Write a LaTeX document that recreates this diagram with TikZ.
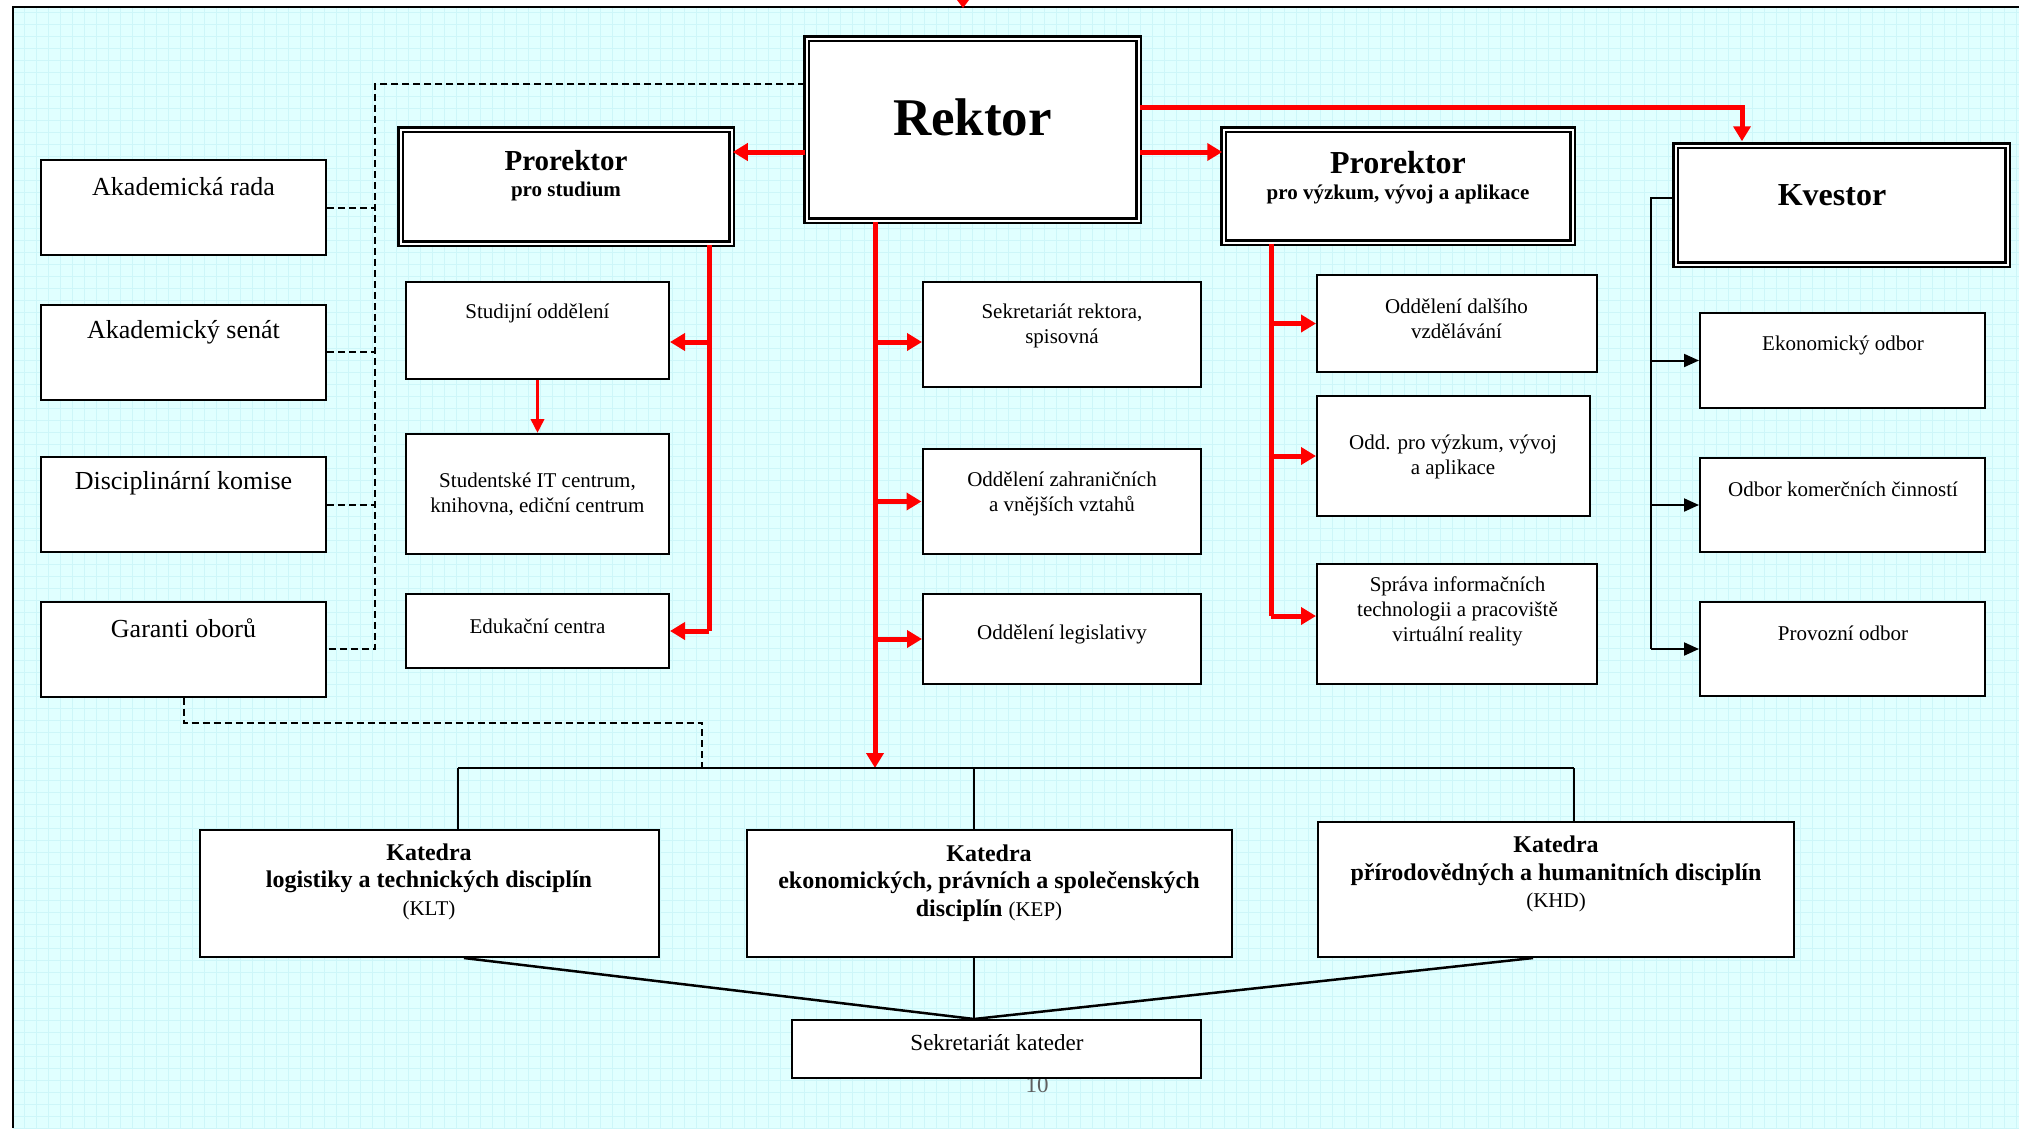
\documentclass[tikz,border=0pt]{standalone}
\usepackage{fontspec}
\setmainfont{Liberation Serif}
\usetikzlibrary{positioning,arrows.meta}
\definecolor{bgcyan}{HTML}{E0FFFF}
\definecolor{gridcyan}{HTML}{CDF6F9}
\definecolor{pagegray}{HTML}{5F5F5F}
\newcommand{\fsz}[2]{\fontsize{#1}{#2}\selectfont}

\begin{document}
\begin{tikzpicture}[x=1pt,y=1pt,
  box/.style={draw,line width=2pt,fill=white,inner sep=0pt},
  dblbox/.style={draw,line width=2.5pt,double=white,double distance=2pt,fill=white,inner sep=0pt},
  txt/.style={inner sep=0pt,align=center,font=\fsz{21}{25}},
  sidetxt/.style={inner sep=0pt,font=\fsz{26}{30}},
  kattxt/.style={inner sep=0pt,align=center,font=\bfseries\fsz{24}{27.5}},
  redln/.style={red,line width=5pt},
  redarr/.style={red,line width=5pt,-{Triangle[length=15pt,width=17pt]}},
  redthin/.style={red,line width=3.5pt,-{Triangle[length=14pt,width=13pt]}},
  blkln/.style={line width=2pt},
  blkarr/.style={line width=2pt,-{Triangle[length=15pt,width=13pt]}},
  dashln/.style={line width=2pt,dash pattern=on 7pt off 4pt}
]
\useasboundingbox (0,0) rectangle (2019,-1128);

% background sheet
\fill[white] (0,0) rectangle (2019,-1128);
\fill[bgcyan] (13,-7) rectangle (2019,-1128);
\draw[gridcyan,line width=0.5pt,step=12] (13,-7) grid (2019,-1128);
\draw[line width=2.5pt] (13,-1128) -- (13,-7) -- (2019,-7);
\fill[red] (957,0) -- (969,0) -- (963,-8) -- cycle;
\node[font=\fsz{23}{27},text=pagegray,inner sep=0pt] (pnum) at (1037,-1085) {10};

% top management
\node[dblbox,minimum width=332pt,minimum height=182pt] (rektor) at (972.5,-129.5) {};
\node[dblbox,minimum width=331pt,minimum height=114pt] (prorS) at (566,-186.5) {};
\node[dblbox,minimum width=349pt,minimum height=113pt] (prorV) at (1398,-186) {};
\node[dblbox,minimum width=332pt,minimum height=119pt] (kvestor) at (1841.5,-205) {};

\node[inner sep=0pt,font=\bfseries\fsz{53}{60}] (rektor-t) at (972.5,-117) {Rektor};
\node[inner sep=0pt,font=\bfseries\fsz{29}{33}] (prorS-t) at (566,-161) {Prorektor};
\node[inner sep=0pt,font=\bfseries\fsz{21}{25}] (prorS-s) at (566,-191) {pro studium};
\node[inner sep=0pt,font=\bfseries\fsz{32}{36}] (prorV-t) at (1398,-163) {Prorektor};
\node[inner sep=0pt,font=\bfseries\fsz{21}{25}] (prorV-s) at (1398,-194) {pro výzkum, vývoj a aplikace};
\node[inner sep=0pt,font=\bfseries\fsz{32}{36}] (kvestor-t) at (1832,-195) {Kvestor};

% academic bodies
\foreach \n/\y/\ty/\t in {rada/207.5/187/Akademická rada,
                          senat/352/332/Akademický senát,
                          komise/504.5/483/Disciplinární komise,
                          garanti/649/628/Garanti oborů}{
  \node[box,minimum width=285pt,minimum height=95pt] (\n) at (183.5,-\y) {};
  \node[sidetxt] (\n-t) at (183.5,-\ty) {\t};
}

% departments
\node[box,minimum width=263pt,minimum height=97pt] (studijni) at (537.5,-330.5) {};
\node[box,minimum width=263pt,minimum height=120pt] (studIT) at (537.5,-494) {};
\node[box,minimum width=263pt,minimum height=74pt] (edukacni) at (537.5,-631) {};
\node[box,minimum width=278pt,minimum height=105pt] (sekr) at (1062,-334.5) {};
\node[box,minimum width=278pt,minimum height=105pt] (zahr) at (1061.5,-501.5) {};
\node[box,minimum width=278pt,minimum height=90pt] (legis) at (1062,-639) {};
\node[box,minimum width=280pt,minimum height=97pt] (dalsi) at (1457,-323.5) {};
\node[box,minimum width=273pt,minimum height=120pt] (vyzkum) at (1453.5,-456) {};
\node[box,minimum width=280pt,minimum height=120pt] (sprava) at (1457,-624) {};
\node[box,minimum width=285pt,minimum height=95pt] (ekon) at (1842.5,-360.5) {};
\node[box,minimum width=285pt,minimum height=94pt] (komer) at (1842.5,-505) {};
\node[box,minimum width=285pt,minimum height=94pt] (provoz) at (1842.5,-649) {};

\node[txt] (studijni-t) at (537.5,-313) {Studijní oddělení};
\node[txt] (studIT-t) at (537.5,-494.5) {Studentské IT centrum,\\knihovna, ediční centrum};
\node[txt] (edukacni-t) at (537.5,-626) {Edukační centra};
\node[txt] (sekr-t) at (1062,-325.5) {Sekretariát rektora,\\spisovná};
\node[txt] (zahr-t) at (1062,-493.5) {Oddělení zahraničních\\a vnějších vztahů};
\node[txt] (legis-t) at (1062,-634) {Oddělení legislativy};
\node[txt] (dalsi-t) at (1456.5,-318.5) {Oddělení dalšího\\vzdělávání};
\node[txt] (vyzkum-t) at (1453,-456.5) {Odd. pro výzkum, vývoj\\a aplikace};
\node[txt] (sprava-t) at (1457.5,-611) {Správa informačních\\technologii a pracoviště\\virtuální reality};
\node[txt] (ekon-t) at (1843,-345) {Ekonomický odbor};
\node[txt] (komer-t) at (1843,-489) {Odbor komerčních činností};
\node[txt] (provoz-t) at (1843,-633) {Provozní odbor};

% chairs
\node[box,minimum width=459pt,minimum height=127pt] (klt) at (429.5,-893.5) {};
\node[box,minimum width=485pt,minimum height=127pt] (kep) at (989.5,-893.5) {};
\node[box,minimum width=476pt,minimum height=135pt] (khd) at (1556,-889.5) {};
\node[box,minimum width=409pt,minimum height=58pt] (sekrK) at (996.5,-1049) {};

\node[kattxt] (klt-t) at (429,-881.5) {Katedra\\logistiky a technických disciplín\\{\mdseries\fsz{21}{25}(KLT)}};
\node[kattxt] (kep-t) at (989,-883) {Katedra\\ekonomických, právních a společenských\\disciplín {\mdseries\fsz{21}{25}(KEP)}};
\node[kattxt] (khd-t) at (1556,-874) {Katedra\\přírodovědných a humanitních disciplín\\{\mdseries\fsz{21}{25}(KHD)}};
\node[txt,font=\fsz{23}{27}] (sekrK-t) at (997,-1043) {Sekretariát kateder};

% bus points
\coordinate (dtop) at (375,-84);
\coordinate (sbus) at (709,0);
\coordinate (trunk) at (875,0);
\coordinate (vbus) at (1271,0);
\coordinate (kbus) at (1651,0);
\coordinate (kbusL) at (458,-768);
\coordinate (kbusR) at (1574,-768);
\coordinate (kepj) at (974,-768);
\coordinate (gjoin) at (702,-768);

% dashed links
\draw[dashln] (rektor.west |- dtop) -- (dtop) -- (dtop |- garanti.east) -- (garanti.east);
\foreach \b in {rada,senat,komise}
  \draw[dashln] (\b.east) -- (\b.east -| dtop);
\draw[dashln] (garanti.south) -- ++(0,-25) -| (gjoin);

% red links
\draw[redarr] (rektor.west |- 0,-152) -- (prorS.east |- 0,-152);
\draw[redarr] (rektor.east |- 0,-152) -- (prorV.west |- 0,-152);
\draw[redarr,shorten >=3pt] (rektor.east |- 0,-107) -| (1742,0 |- kvestor.north);
\draw[redarr] (rektor.south -| trunk) -- (kbusL -| trunk);

\draw[redln] (prorS.south -| sbus) -- (edukacni.east -| sbus);
\draw[redarr] (sbus |- 0,-342) -- (studijni.east |- 0,-342);
\draw[redarr] (edukacni.east -| sbus) -- (edukacni.east);
\draw[redthin] (studijni) -- (studIT);

\draw[redarr] (trunk |- 0,-342) -- (sekr.west |- 0,-342);
\draw[redarr] (zahr.west -| trunk) -- (zahr.west);
\draw[redarr] (legis.west -| trunk) -- (legis.west);

\draw[redln] (prorV.south -| vbus) -- (vbus |- 0,-616);
\draw[redarr] (dalsi.west -| vbus) -- (dalsi.west);
\draw[redarr] (vyzkum.west -| vbus) -- (vyzkum.west);
\draw[redarr] (vbus |- 0,-616) -- (sprava.west |- 0,-616);

% bursar links
\draw[blkln] (kvestor.west |- 0,-198) -- (kbus |- 0,-198) -- (kbus |- provoz.west);
\foreach \b in {ekon,komer,provoz}
  \draw[blkarr] (\b.west -| kbus) -- (\b.west);

% chairs links
\draw[blkln] (kbusL) -- (kbusR);
\draw[blkln] (kbusL) -- (kbusL |- klt.north);
\draw[blkln] (kepj) -- (kepj |- kep.north);
\draw[blkln] (kbusR) -- (kbusR |- khd.north);
\draw[line width=2.5pt] (klt.south -| 464,0) -- (kepj |- sekrK.north);
\draw[blkln] (kep.south -| kepj) -- (kepj |- sekrK.north);
\draw[line width=2.5pt] (khd.south -| 1533,0) -- (kepj |- sekrK.north);

\end{tikzpicture}
\end{document}
